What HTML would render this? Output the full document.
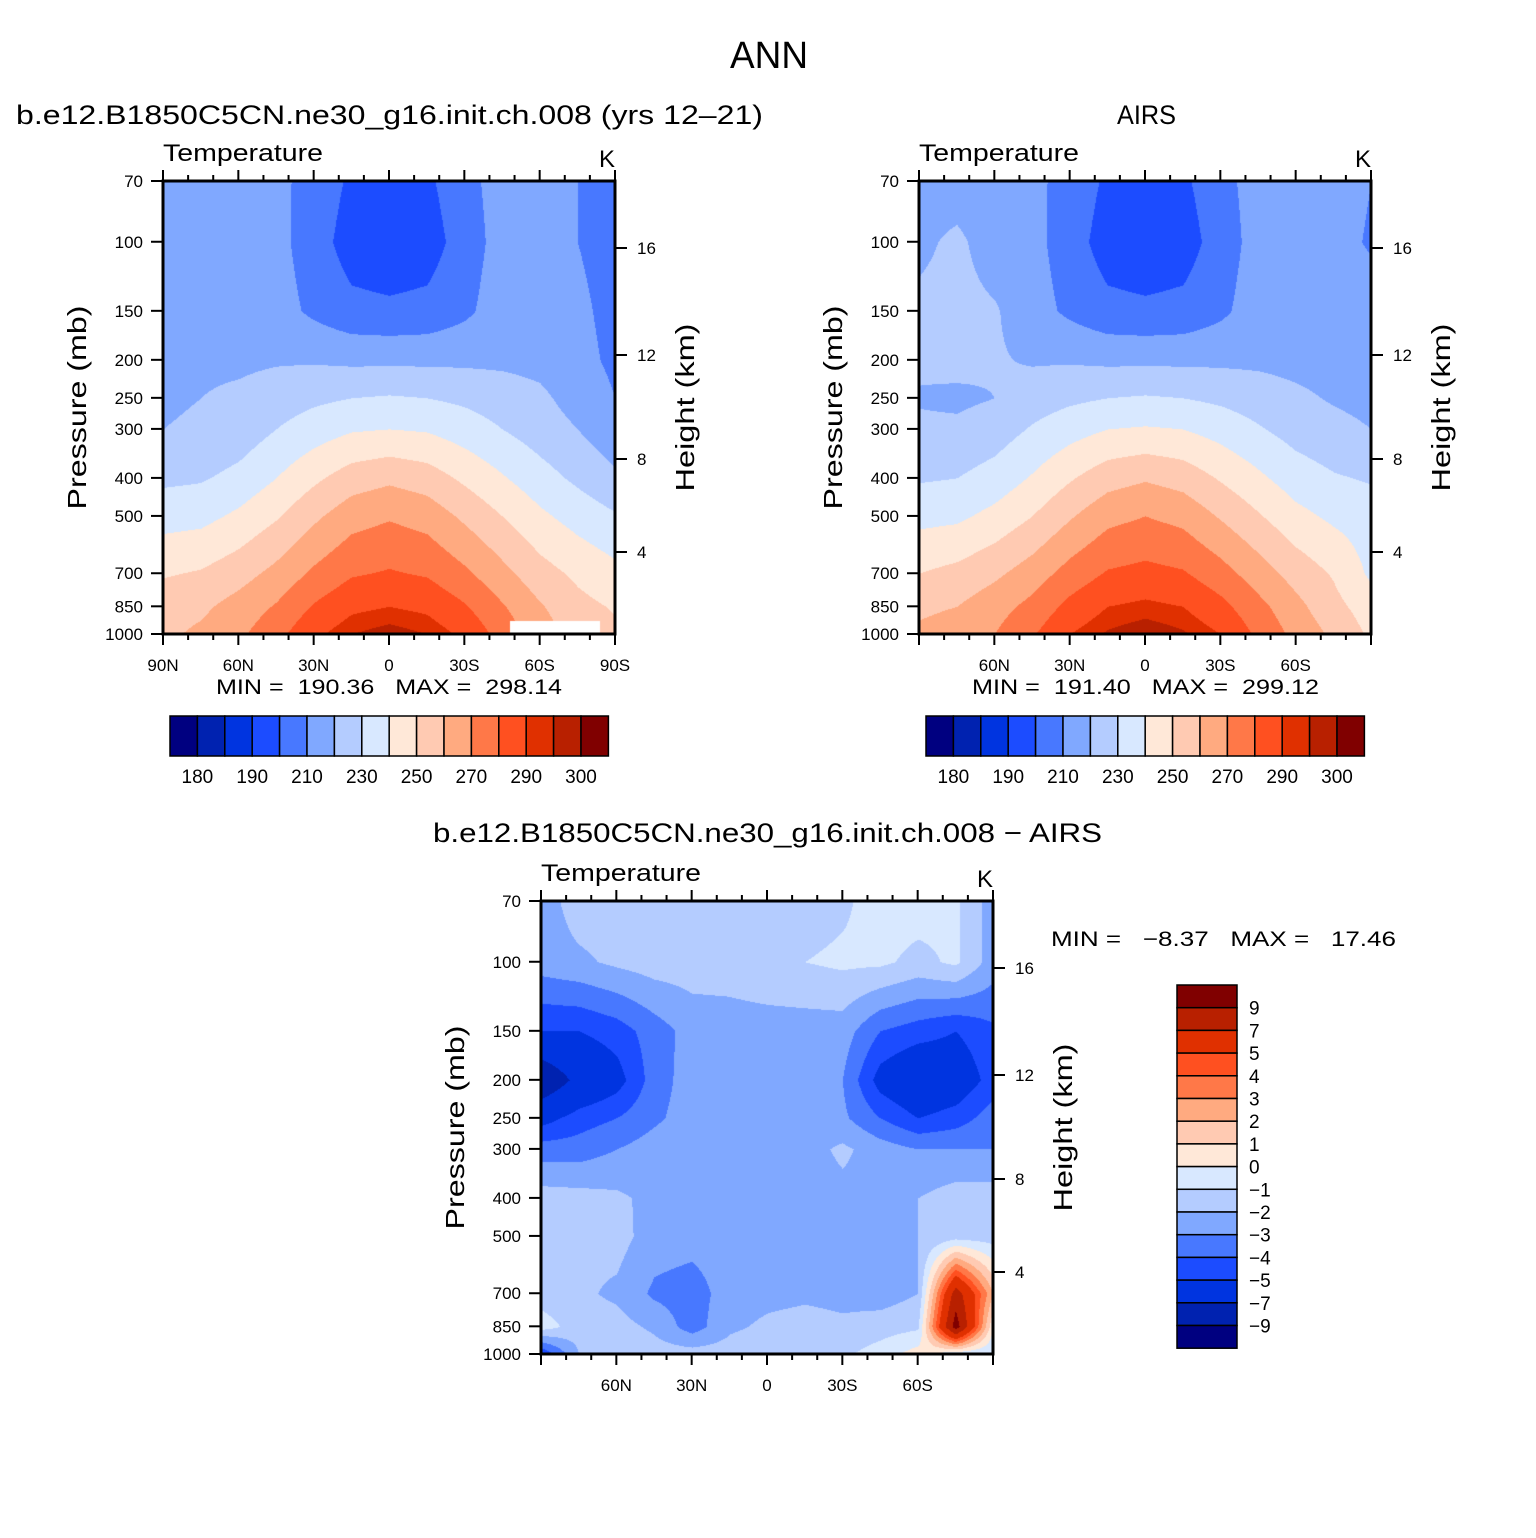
<!DOCTYPE html>
<html><head><meta charset="utf-8">
<style>
html,body{margin:0;padding:0;background:#fff;}
#root{position:relative;width:1536px;height:1538px;overflow:hidden;font-family:"Liberation Sans",sans-serif;}
canvas{position:absolute;}
#ov{position:absolute;left:0;top:0;}
text{font-family:"Liberation Sans",sans-serif;fill:#000;white-space:pre;}
</style></head>
<body>
<div id="root">
<canvas id="c1" width="452" height="453" style="left:163px;top:181px"></canvas>
<canvas id="c2" width="452" height="453" style="left:919px;top:181px"></canvas>
<canvas id="c3" width="452" height="453" style="left:541px;top:901px"></canvas>
<svg id="ov" width="1536" height="1538" xmlns="http://www.w3.org/2000/svg">
<text x="730" y="68" font-size="38" textLength="78" lengthAdjust="spacingAndGlyphs">ANN</text>
<text x="16" y="124" font-size="27" textLength="747" lengthAdjust="spacingAndGlyphs">b.e12.B1850C5CN.ne30_g16.init.ch.008 (yrs 12–21)</text>
<text x="1117" y="124" font-size="27" textLength="59" lengthAdjust="spacingAndGlyphs">AIRS</text>
<text x="433" y="842" font-size="27" textLength="669" lengthAdjust="spacingAndGlyphs">b.e12.B1850C5CN.ne30_g16.init.ch.008 − AIRS</text>
<g id="axes"></g>
</svg>
</div>
<script>
// ---- data ----
const lats = [90,75,60,45,30,15,0,-15,-30,-45,-60,-75,-90];
const pressures = [70,100,150,200,250,300,400,500,700,850,1000];
const modelT = [
[216,215,214,212,207,198,196,198,207,214,214,210,206],
[216,216,215,213,205,195,193,195,205,214,215,210,206],
[217,217,216,214,208,203,202,203,208,215,216,212,207],
[218,218,218,219,219,218,218,218,218,218,217,213,208],
[219,220,222,225,228,230,231,230,228,225,222,216,210],
[220,221,224,230,235,239,240,239,235,230,225,220,213],
[228,229,233,240,248,255,258,255,248,241,234,228,222],
[236,237,242,249,258,266,269,266,258,250,242,236,231],
[249,251,256,263,272,279,281,279,272,263,254,248,243],
[256,258,264,271,281,288,290,288,281,271,261,253,249],
[258,262,268,277,288,295,298,295,288,276,265,256,252]];
const airsT = [
[216,215,214,212,207,198,196,198,207,214,214,214,210],
[218,222,215,213,205,195,193,195,205,214,215,213,209],
[222,223,221,214,208,203,202,203,208,215,216,215,214],
[222,223,221,219,219,218,218,218,218,218,217,216,215],
[219,218,220,225,228,230,231,230,228,225,222,219,217],
[222,222,225,231,236,240,241,240,236,231,226,223,220],
[229,230,234,241,249,256,259,256,249,242,235,231,229],
[237,238,243,250,259,267,270,267,259,251,243,238,235],
[250,253,258,265,274,281,283,281,274,265,256,249,238],
[258,260,266,273,283,290,292,290,283,273,263,253,245],
[262,265,270,279,290,296,299,296,290,278,267,258,248]];
const diffT = [
[-2.5,-1.5,-1.5,-1.5,-1.5,-1.5,-1.7,-1.5,-1.2,-0.5,-0.5,-0.8,-2.5],
[-2.5,-2.2,-1.8,-1.5,-1.5,-1.5,-1.2,-1,-0.8,-0.8,-1.3,-0.8,-2.5],
[-5,-5,-4.5,-3.5,-2.6,-2.5,-2.5,-2.5,-2.5,-4,-4.5,-5,-4.2],
[-8.5,-6.5,-5.5,-3.5,-2.5,-2.4,-2.5,-2.5,-3,-5.5,-6.5,-6,-4.5],
[-5.5,-4.5,-4,-3.2,-2.5,-2.4,-2.5,-2.5,-2.8,-4,-5,-4.5,-3.5],
[-3.5,-3.5,-3,-2.5,-2.2,-2.3,-2.5,-2.4,-1.8,-2.5,-3,-3,-3],
[-1.5,-1.6,-1.8,-2.3,-2.5,-2.5,-2.5,-2.5,-2.3,-2.3,-2,-1.5,-1.5],
[-1.5,-1.8,-1.6,-2.5,-2.6,-2.5,-2.5,-2.5,-2.5,-2.5,-2,-1.5,-1.5],
[-1.5,-1.8,-2.2,-3.2,-3.5,-2.5,-2.3,-2.2,-2.3,-2.5,-2,8,2],
[-0.5,-1.5,-1.6,-2.2,-3.5,-2.2,-1.8,-1.6,-1.8,-1.5,-1.2,10,0],
[-5,-2,-1.2,-1.5,-1.5,-1.5,-1.2,-1.5,-1.2,-0.5,0.5,-1,-1]];
const tLevels = [180,185,190,200,210,220,230,240,250,260,270,280,290,295,300];
const tLabels = ["180","190","210","230","250","270","290","300"];
const dLevels = [-9,-7,-5,-4,-3,-2,-1,0,1,2,3,4,5,7,9];
const dLabels = ["9","7","5","4","3","2","1","0","−1","−2","−3","−4","−5","−7","−9"];
const palette = ["#000080","#0022b0","#0034e0","#1c4cff","#4878ff","#80a8ff","#b4ccff","#d8e8ff","#ffe8d8","#ffcab2","#ffaa80","#ff7848","#ff5020","#e03000","#b82000","#800000"];
const pTicks = [70,100,150,200,250,300,400,500,700,850,1000];
const hTicks = [16,12,8,4];
const latTicks = [90,60,30,0,-30,-60,-90];
const latNames = ["90N","60N","30N","0","30S","60S","90S"];

// ---- axis functions ----
const W=452,H=453;
function yP(p){return H*Math.log(p/70)/Math.log(1000/70);}
function xL(lat){return W*(90-lat)/180;}
function hexRGB(h){return [parseInt(h.slice(1,3),16),parseInt(h.slice(3,5),16),parseInt(h.slice(5,7),16)];}
const pal = palette.map(hexRGB);
function level(v,lv){let i=0;while(i<lv.length&&v>=lv[i])i++;return i;}

function field(grid,lat,p){
  let fi=(90-lat)/15; fi=Math.max(0,Math.min(lats.length-1.0001,fi));
  const lp=Math.log(p); let j=0;
  while(j<pressures.length-2&&lp>Math.log(pressures[j+1]))j++;
  let fj=(lp-Math.log(pressures[j]))/(Math.log(pressures[j+1])-Math.log(pressures[j]));
  fj=Math.max(0,Math.min(1,fj));
  const i=Math.floor(fi),a=fi-i;
  const v00=grid[j][i],v01=grid[j][i+1],v10=grid[j+1][i],v11=grid[j+1][i+1];
  return (v00*(1-a)+v01*a)*(1-fj)+(v10*(1-a)+v11*a)*fj;
}
function drawField(id,grid,lv){
  const ctx=document.getElementById(id).getContext('2d');
  const img=ctx.createImageData(W,H);
  for(let y=0;y<H;y++){
    const p=70*Math.exp(y/H*Math.log(1000/70));
    for(let x=0;x<W;x++){
      const lat=90-x/W*180;
      const c=pal[level(field(grid,lat,p),lv)];
      const k=(y*W+x)*4;img.data[k]=c[0];img.data[k+1]=c[1];img.data[k+2]=c[2];img.data[k+3]=255;
    }
  }
  ctx.putImageData(img,0,0);
}
drawField('c1',modelT,tLevels);
drawField('c2',airsT,tLevels);
drawField('c3',diffT,dLevels);
(function(){const c=document.getElementById('c1').getContext('2d');c.fillStyle='#fff';c.fillRect(347,440,90,13);})();

const NS="http://www.w3.org/2000/svg";
const axes=document.getElementById('axes');
function mk(tag){const e=document.createElementNS(NS,tag);axes.appendChild(e);return e;}
function line(x1,y1,x2,y2,w){const l=mk('line');l.setAttribute('x1',x1);l.setAttribute('y1',y1);l.setAttribute('x2',x2);l.setAttribute('y2',y2);l.setAttribute('stroke','#000');l.setAttribute('stroke-width',w||2);return l;}
function txt(x,y,s,size,anchor){const t=mk('text');t.setAttribute('x',x);t.setAttribute('y',y);t.setAttribute('font-size',size);t.setAttribute('text-anchor',anchor||'start');t.textContent=s;return t;}

function panel(x0,y0,full){
  const fr=mk('rect');fr.setAttribute('x',x0);fr.setAttribute('y',y0);fr.setAttribute('width',W);fr.setAttribute('height',H);fr.setAttribute('fill','none');fr.setAttribute('stroke','#000');fr.setAttribute('stroke-width',3);
  
  
  pTicks.forEach(p=>{const y=y0+yP(p);const tk=line(x0-12,y,x0,y);
    
    
    const t=txt(x0-20,y+6,String(p),17,'end');
    
    });
  const hy=[67,174,278,371];
  hTicks.forEach((h,i)=>{const y=y0+hy[i];
    const tk=line(x0+W,y,x0+W+12,y);
    
    
    const t=txt(x0+W+22,y+6,String(h),17);
    
    });
  for(let lat=90;lat>=-90;lat-=10){const x=x0+xL(lat);const major=lat%30===0;const L=major?11:6;
    const a=line(x,y0+H,x,y0+H+L);
    const b=line(x,y0,x,y0-L);}
  latTicks.forEach((lat,i)=>{if(!full&&(i===0||i===latTicks.length-1))return;
    const t=txt(x0+xL(lat),y0+H+37,latNames[i],17,'middle');
    
    });
  const tt=txt(x0,y0-20,"Temperature",24);tt.setAttribute('textLength',160);tt.setAttribute('lengthAdjust','spacingAndGlyphs');
  
  const k=txt(x0+W-8,y0-14,"K",24,'middle');
  const yl=txt(0,0,"Pressure (mb)",26,'middle');yl.setAttribute('transform',`translate(${x0-77},${y0+H/2}) rotate(-90)`);
  yl.setAttribute('textLength',204);yl.setAttribute('lengthAdjust','spacingAndGlyphs');
  
  const hl=txt(0,0,"Height (km)",26,'middle');hl.setAttribute('transform',`translate(${x0+W+79},${y0+H/2}) rotate(-90)`);
  hl.setAttribute('textLength',168);hl.setAttribute('lengthAdjust','spacingAndGlyphs');
  
}
panel(163,181,true);
panel(919,181,false);
panel(541,901,false);

function hbar(x0,y0){
  palette.forEach((c,i)=>{const r=mk('rect');r.setAttribute('x',x0+i*27.4);r.setAttribute('y',y0);r.setAttribute('width',27.4);r.setAttribute('height',40);r.setAttribute('fill',c);r.setAttribute('stroke','#000');r.setAttribute('stroke-width',1.5);
    
    });
  tLabels.forEach((s,i)=>{const t=txt(x0+27.4*(2*i+1),y0+67,s,19,'middle');
    
    });
}
hbar(170,716);hbar(926,716);
const m1=txt(216,694,"MIN =  190.36   MAX =  298.14",21);m1.setAttribute('textLength',346);m1.setAttribute('lengthAdjust','spacingAndGlyphs');

const m2=txt(972,694,"MIN =  191.40   MAX =  299.12",21);m2.setAttribute('textLength',347);m2.setAttribute('lengthAdjust','spacingAndGlyphs');

const m3=txt(1051,946,"MIN =   −8.37   MAX =   17.46",21);m3.setAttribute('textLength',345);m3.setAttribute('lengthAdjust','spacingAndGlyphs');

palette.slice().reverse().forEach((c,i)=>{const r=mk('rect');r.setAttribute('x',1177);r.setAttribute('y',985+i*22.7);r.setAttribute('width',60);r.setAttribute('height',22.7);r.setAttribute('fill',c);r.setAttribute('stroke','#000');r.setAttribute('stroke-width',1.5);
  
  });
dLabels.forEach((s,i)=>{const t=txt(1249,985+22.7*(i+1)+7,s,19);
  
  });
</script>
</body></html>
